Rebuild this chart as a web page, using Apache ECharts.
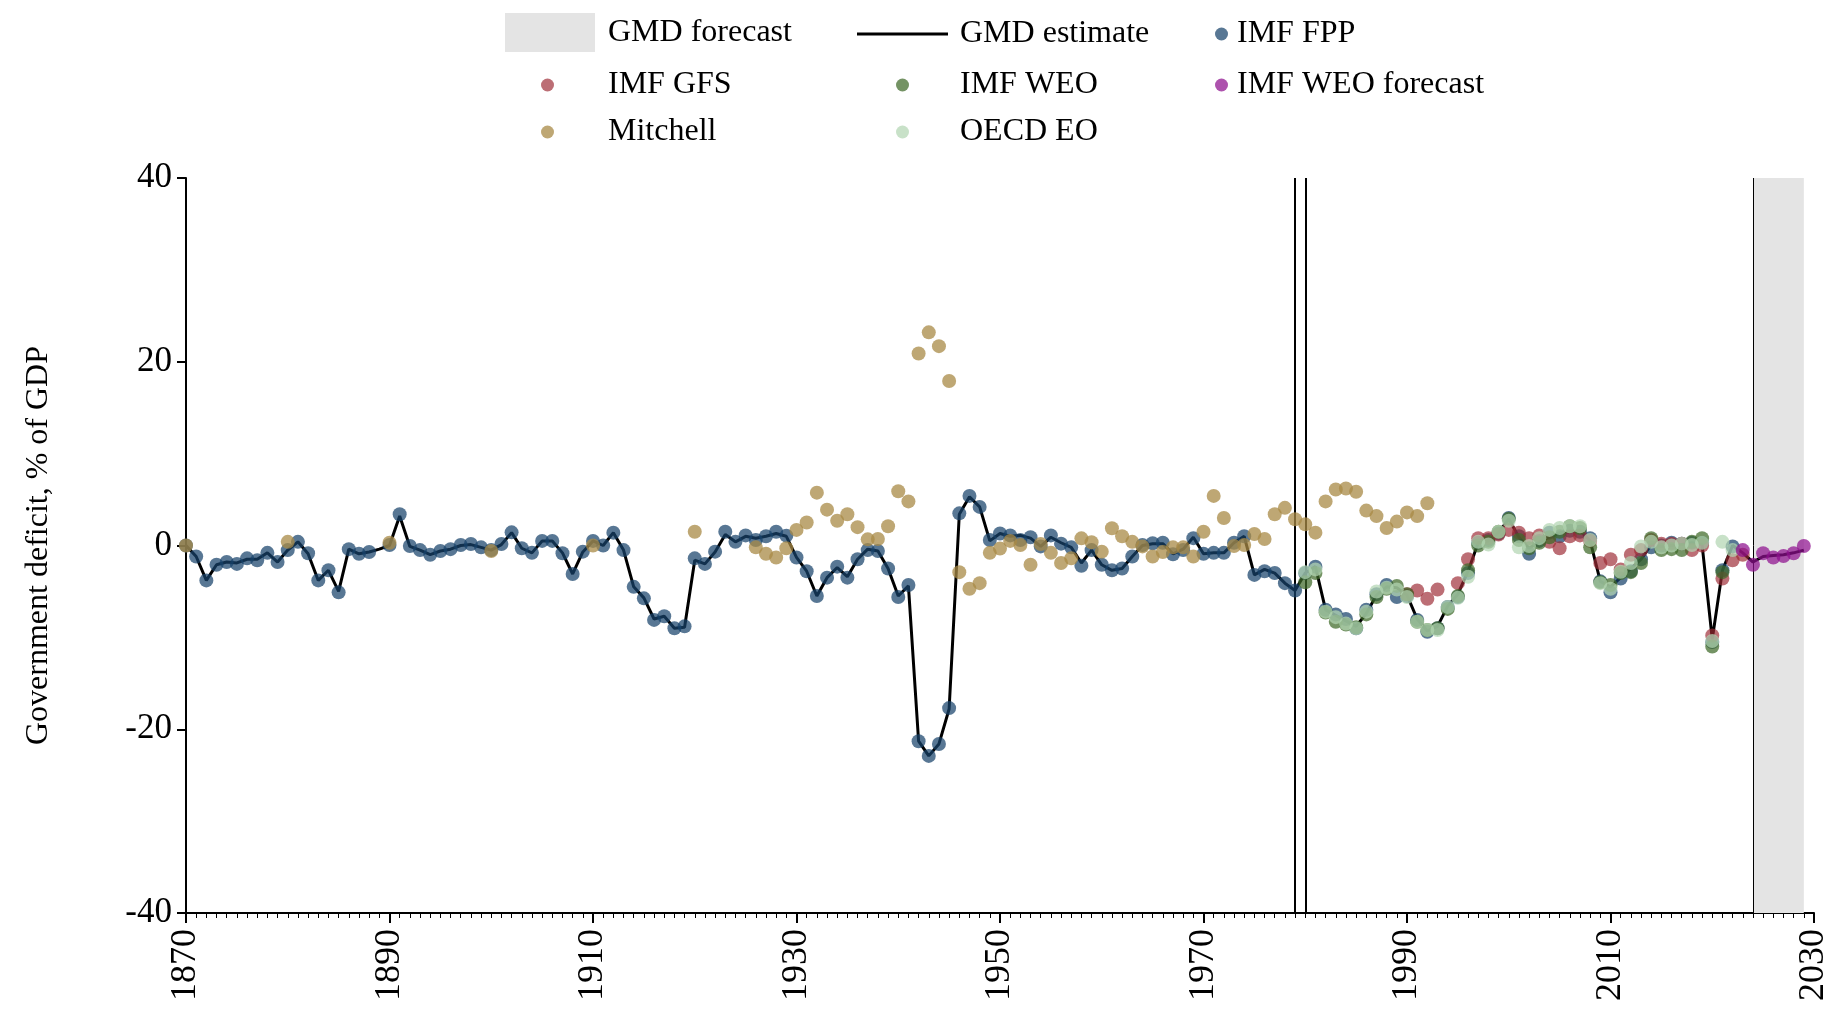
<!DOCTYPE html>
<html>
<head>
<meta charset="utf-8">
<title>Government deficit</title>
<script src="https://cdn.jsdelivr.net/npm/echarts@6/dist/echarts.min.js"></script>
<style>
  html, body { margin: 0; padding: 0; background: #fff; }
  #chart { width: 1840px; height: 1018px; }
</style>
</head>
<body>
<div id="chart"></div>
<script>
var gmdStart = 1870;
var gmdEstimate = [
  0, -1.2, -3.8, -2.1, -1.8, -1.9, -1.5, -1.5, -0.8, -1.8,
  -0.5, 0.4, -0.9, -3.8, -2.7, -5.0, -0.4, -0.9, -0.7, -0.4,
  0.0, 3.2, -0.1, -0.5, -1.0, -0.6, -0.4, 0.0, 0.1, -0.2,
  -0.5, 0.1, 1.4, -0.3, -0.8, 0.5, 0.5, -0.8, -3.1, -0.7,
  0.5, 0.0, 1.4, -0.5, -4.5, -5.7, -8.0, -7.7, -9.0, -8.9,
  -1.6, -2.0, -0.7, 1.2, 0.4, 1.0, 0.8, 1.0, 1.3, 1.0,
  -1.3, -2.8, -5.5, -3.5, -2.4, -3.4, -1.5, -0.4, -0.6, -2.5,
  -5.5, -4.4, -21.3, -22.9, -21.6, -17.8, 3.4, 5.3, 4.2, 0.5,
  1.3, 1.0, 1.1, 0.8, -0.1, 0.9, 0.3, -0.2, -1.9, -0.5,
  -2.1, -2.7, -2.5, -1.2, 0.0, 0.2, 0.2, -0.9, -0.4, 0.9,
  -0.9, -0.8, -0.8, 0.3, 1.0, -3.2, -2.6, -3.0, -4.1, -4.9,
  -3.0, -2.3, -7.0, -7.6, -8.2, -8.8, -7.4, -5.4, -4.5, -4.6,
  -5.4, -8.0, -9.3, -8.8, -6.6, -5.3, -2.8, 0.3, 0.5, 1.4,
  2.9, 0.9, -0.3, 0.4, 0.9, 1.4, 1.5, 1.6, 0.5, -3.9,
  -4.5, -3.5, -2.5, -1.5, 0.1, -0.1, 0.0, 0.1, 0.3, 0.1,
  -10.2, -2.7, 0.0, -0.8, -1.8, -1.2, -1.1, -1.0, -0.8, -0.5
];

var fppStart = 1870;
var imfFpp = [
  0, -1.2, -3.8, -2.1, -1.8, -2.0, -1.4, -1.6, -0.8, -1.8,
  -0.5, 0.4, -0.85, -3.8, -2.7, -5.1, -0.4, -0.9, -0.7, null,
  0.05, 3.4, -0.05, -0.5, -1.0, -0.6, -0.4, 0.05, 0.16, -0.2,
  -0.5, 0.16, 1.43, -0.3, -0.8, 0.5, 0.5, -0.85, -3.1, -0.67,
  0.5, 0.0, 1.4, -0.5, -4.5, -5.75, -8.1, -7.7, -9.0, -8.8,
  -1.4, -2.0, -0.67, 1.5, 0.4, 1.1, 0.6, 1.0, 1.5, 1.07,
  -1.3, -2.8, -5.5, -3.5, -2.3, -3.5, -1.5, -0.5, -0.6, -2.5,
  -5.6, -4.3, -21.3, -22.9, -21.6, -17.7, 3.5, 5.4, 4.2, 0.6,
  1.3, 1.1, 0.6, 0.9, -0.1, 1.1, 0.2, -0.2, -2.2, -0.5,
  -2.1, -2.7, -2.5, -1.2, 0.05, 0.24, 0.3, -0.96, -0.5, 0.8,
  -0.9, -0.8, -0.8, 0.3, 1.0, -3.2, -2.8, -3.0, -4.1, -4.9,
  -3.0, -2.3, -7.0, -7.5, -8.0, -9.0, -7.0, -5.3, -4.3, -5.6,
  -5.5, -8.1, -9.4, -9.0, -6.7, -5.6, -3.0, 0.3, 0.6, 1.3,
  3.0, 1.0, -0.9, 0.5, 1.4, 1.0, 1.6, 1.5, 0.8, -3.9,
  -5.1, -3.6, -2.8, -1.5, -0.2, 0.0, 0.3, 0.2, 0.3, 0.3,
  -10.5, -2.7, -0.1
];

var gfsStart = 1990;
var imfGfs = [
  -5.3, -4.9, -5.8, -4.8, null, -4.1, -1.5, 0.8, 0.8, 1.2,
  1.7, 1.4, 0.8, 1.1, 0.4, -0.3, 1.0, 1.1, 0.5, -1.9,
  -1.5, -2.6, -1.0, -0.5, 0.6, 0.2, 0.2, 0.2, -0.5, 0.0,
  -9.8, -3.6, -1.6, -1.0
];

var weoStart = 1980;
var imfWeo = [
  -4.0, -3.0, -7.3, -8.3, -8.6, -8.9, -7.5, -5.6, -4.7, -4.4,
  -5.3, -8.3, -9.2, -9.0, -6.9, -5.5, -2.7, 0.0, 0.4, 1.5,
  2.9, 0.6, -0.3, 0.3, 0.9, 1.5, 2.1, 1.9, -0.2, -4.0,
  -4.3, -3.0, -2.9, -1.9, 0.8, -0.5, -0.4, -0.5, 0.4, 0.8,
  -11.0, -2.9
];

var forecastStart = 2023;
var imfWeoForecast = [-0.5, -2.1, -0.85, -1.3, -1.15, -0.85, -0.05];

var oecdStart = 1980;
var oecdEo = [
  -2.9, -2.6, -7.2, -7.8, -8.5, -9.0, -7.2, -5.0, -4.6, -4.8,
  -5.6, -8.3, -9.2, -9.2, -6.7, -5.7, -3.4, 0.4, 0.1, 1.5,
  2.7, -0.2, -0.05, 0.8, 1.7, 1.9, 2.1, 2.1, 0.6, -4.1,
  -4.7, -2.85, -1.9, -0.1, 0.4, -0.2, 0.0, 0.2, 0.05, 0.3,
  -10.4, 0.4, -0.5
];

var mitchellYears = [1870, 1880, 1890, 1900, 1910, 1920, 1926, 1927, 1928, 1929];
var mitchellEarly = [0, 0.4, 0.3, -0.6, 0.0, 1.5, -0.2, -0.9, -1.3, -0.3];
var mitchellStart = 1930;
var mitchell = [
  1.7, 2.5, 5.75, 3.9, 2.7, 3.4, 2.0, 0.67, 0.7, 2.1,
  5.9, 4.8, 20.9, 23.2, 21.7, 17.9, -2.9, -4.7, -4.1, -0.8,
  -0.34, 0.5, 0.05, -2.1, 0.16, -0.8, -1.9, -1.4, 0.78, 0.35,
  -0.67, 1.87, 1.0, 0.4, -0.1, -1.2, -0.7, -0.2, -0.2, -1.2,
  1.5, 5.4, 3.0, -0.05, 0.05, 1.25, 0.7, 3.4, 4.1, 2.85,
  2.3, 1.4, 4.8, 6.1, 6.2, 5.85, 3.8, 3.2, 1.9, 2.6,
  3.6, 3.2, 4.6
];

var breakYears = [1979, 1980];
var forecastBand = [2024, 2029];
var xTicks = [1870, 2030, 20];
var yTicks = [-40, 40, 20];

function pairs(start, values) {
  var out = [];
  for (var i = 0; i < values.length; i++) {
    if (values[i] !== null) out.push([start + i, values[i]]);
  }
  return out;
}

var mitchellData = mitchellYears.map(function (y, i) { return [y, mitchellEarly[i]]; })
  .concat(pairs(mitchellStart, mitchell));

var font = 'Liberation Serif';

function dots(name, color, data, opacity) {
  return {
    name: name,
    type: 'scatter',
    data: data,
    symbolSize: 14,
    itemStyle: { color: color, opacity: opacity },
    silent: true,
    z: 5
  };
}

// one legend box per key, the way the picture lays them out in three columns
function legendItem(name, icon, left, top, w, h, pad) {
  return {
    data: [{ name: name, icon: icon }],
    left: left,
    top: top,
    itemWidth: w,
    itemHeight: h,
    padding: 0,
    selectedMode: false,
    textStyle: { fontFamily: font, fontSize: 32, color: '#000', lineHeight: 32, padding: [0, 0, 0, pad] }
  };
}

var chart = echarts.init(document.getElementById('chart'), null, { renderer: 'canvas' });

chart.setOption({
  animation: false,
  backgroundColor: '#fff',
  textStyle: { fontFamily: font },
  grid: { left: 186, right: 26, top: 178, bottom: 105 },
  legend: [
    legendItem('GMD forecast', 'rect', 505, 13, 90, 39, 8),
    legendItem('IMF GFS', 'circle', 541, 69, 13, 13, 49),
    legendItem('Mitchell', 'circle', 541, 116, 13, 13, 49),
    legendItem('GMD estimate', 'rect', 857, 18, 91, 3, 7),
    legendItem('IMF WEO', 'circle', 896, 69, 13, 13, 46),
    legendItem('OECD EO', 'circle', 896, 116, 13, 13, 46),
    legendItem('IMF FPP', 'circle', 1215, 18, 13, 13, 4),
    legendItem('IMF WEO forecast', 'circle', 1215, 69, 13, 13, 4)
  ],
  xAxis: {
    type: 'value',
    min: xTicks[0],
    max: xTicks[1],
    interval: xTicks[2],
    splitLine: { show: false },
    axisLine: { onZero: false, lineStyle: { color: '#000', width: 2 } },
    axisTick: { length: 10, lineStyle: { color: '#000', width: 2 } },
    minorTick: { show: true, splitNumber: 20, length: 5, lineStyle: { color: '#000', width: 1 } },
    axisLabel: {
      rotate: 90, margin: 16, fontSize: 36, color: '#000', fontFamily: font,
      formatter: function (v) { return String(v); }
    }
  },
  yAxis: {
    type: 'value',
    min: yTicks[0],
    max: yTicks[1],
    interval: yTicks[2],
    name: 'Government deficit, % of GDP',
    nameLocation: 'middle',
    nameRotate: 90,
    nameGap: 131,
    nameTextStyle: { fontSize: 32, color: '#000', fontFamily: font },
    splitLine: { show: false },
    axisLine: { lineStyle: { color: '#000', width: 2 } },
    axisTick: { length: 9, lineStyle: { color: '#000', width: 2 } },
    axisLabel: { margin: 14, fontSize: 35, color: '#000', fontFamily: font }
  },
  series: [
    {
      name: 'GMD forecast',
      type: 'line',
      data: [],
      itemStyle: { color: '#e4e4e4' },
      silent: true,
      markArea: {
        silent: true,
        itemStyle: { color: '#e4e4e4' },
        data: [[{ xAxis: forecastBand[0] }, { xAxis: forecastBand[1] }]]
      },
      markLine: {
        silent: true,
        symbol: 'none',
        label: { show: false },
        lineStyle: { color: '#000', width: 1, type: 'solid' },
        data: [{ xAxis: forecastBand[0] }]
      },
      z: 1
    },
    {
      name: 'breaks',
      type: 'line',
      data: [],
      silent: true,
      markLine: {
        silent: true,
        symbol: 'none',
        label: { show: false },
        lineStyle: { color: '#000', width: 2, type: 'solid' },
        data: breakYears.map(function (y) { return { xAxis: y }; })
      },
      z: 2
    },
    {
      name: 'GMD estimate',
      type: 'line',
      data: pairs(gmdStart, gmdEstimate),
      showSymbol: false,
      symbol: 'none',
      itemStyle: { color: '#000' },
      lineStyle: { color: '#000', width: 3 },
      silent: true,
      z: 3
    },
    dots('IMF FPP', '#17426b', pairs(fppStart, imfFpp), 0.72),
    dots('IMF GFS', '#9c2a33', pairs(gfsStart, imfGfs), 0.68),
    dots('IMF WEO', '#3f6a28', pairs(weoStart, imfWeo), 0.72),
    dots('Mitchell', '#a88a45', mitchellData, 0.75),
    dots('OECD EO', '#b3d6b3', pairs(oecdStart, oecdEo), 0.72),
    dots('IMF WEO forecast', '#8e0f8e', pairs(forecastStart, imfWeoForecast), 0.72)
  ]
});
</script>
</body>
</html>
